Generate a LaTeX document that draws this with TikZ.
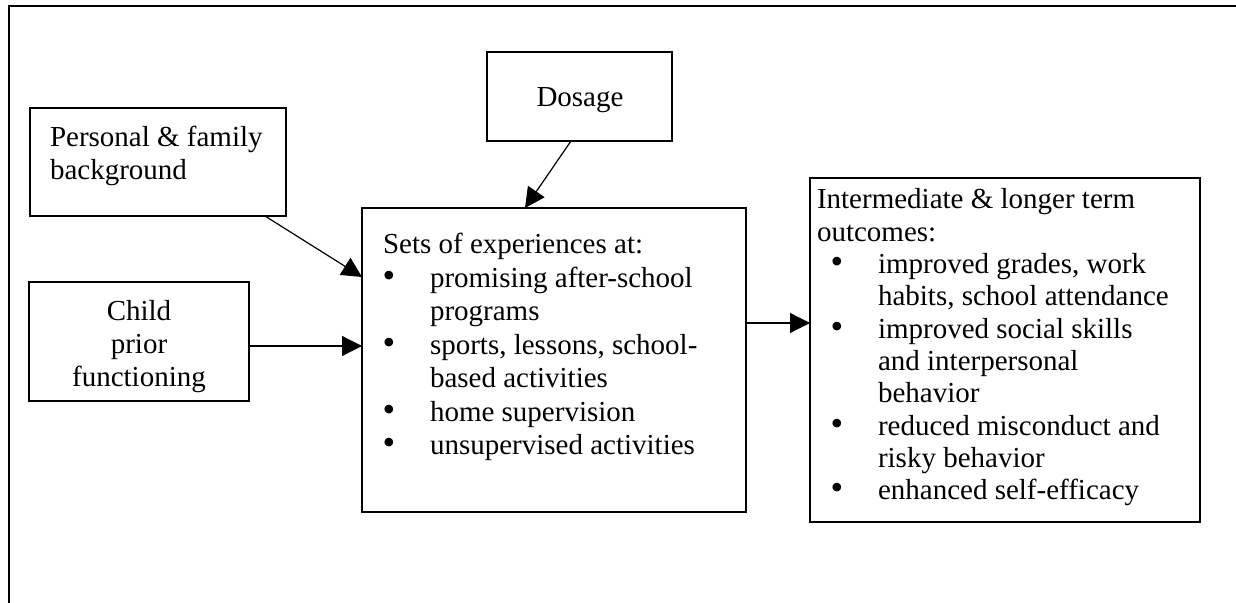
\documentclass[tikz,border=0pt]{standalone}
\usepackage{fontspec}
\setmainfont{Liberation Serif}
\usetikzlibrary{arrows.meta,calc}
\newcommand{\bulglyph}{{\fontsize{18}{18}\selectfont\textbullet}}
\newcommand{\ltext}[2][16.25pt]{\vtop{\baselineskip=#1\lineskiplimit=-20pt\halign{##\hfil\cr#2\crcr}}}
\newcommand{\ctext}[1]{\vtop{\baselineskip=16.5pt\lineskiplimit=-20pt\halign{\hfil##\hfil\cr#1\crcr}}}
\newcommand{\sbul}{\hspace*{3pt}\makebox[0pt]{\bulglyph}\hspace*{20.5pt}}
\newcommand{\sind}{\hspace*{23.5pt}}
\newcommand{\obul}{\hspace*{10pt}\makebox[0pt]{\bulglyph}\hspace*{20.5pt}}
\newcommand{\oind}{\hspace*{30.5pt}}
\tikzset{
  box/.style={draw, line width=0.75pt, rectangle, anchor=north west, inner sep=0pt, outer sep=0pt},
  txt/.style={inner sep=0pt, outer sep=0pt, font=\fontsize{14.5}{16.25}\selectfont},
  arr/.style={line width=0.6pt, -{Triangle[length=10pt,width=10pt]}}
}
\begin{document}
\begin{tikzpicture}[x=0.5pt,y=-0.5pt]
\useasboundingbox (0,0) rectangle (1236,603);
% outer frame
\draw[line width=1.1pt] (1236,6) -- (9,6) -- (9,603);
% boxes
\node[box, minimum width=128pt, minimum height=54pt] (pers) at (30,108) {};
\node[box, minimum width=92.5pt, minimum height=44.5pt] (dose) at (487,52) {};
\node[box, minimum width=110pt, minimum height=59.5pt] (child) at (29,282) {};
\node[box, minimum width=192pt, minimum height=152pt] (sets) at (362,208) {};
\node[box, minimum width=195pt, minimum height=172pt] (outc) at (810,178) {};
% texts
\node[txt, anchor=base west] (perst) at (50,147) {\ltext[16.5pt]{Personal \& family\cr background}};
\node[txt, anchor=base] (doset) at (580,107) {Dosage};
\node[txt, anchor=base] (childt) at (139,321) {\ctext{Child\cr prior\cr functioning}};
\node[txt, anchor=base west] (setst) at (383,254) {\ltext[16.75pt]{Sets of experiences at:\cr
\sbul promising after-school\cr
\sind programs\cr
\sbul sports, lessons, school-\cr
\sind based activities\cr
\sbul home supervision\cr
\sbul unsupervised activities}};
\node[txt, anchor=base west] (outct) at (817,209) {\ltext[16.15pt]{Intermediate \& longer term\cr
outcomes:\cr
\obul improved grades, work\cr
\oind habits, school attendance\cr
\obul improved social skills\cr
\oind and interpersonal\cr
\oind behavior\cr
\obul reduced misconduct and\cr
\oind risky behavior\cr
\obul enhanced self-efficacy}};
% connectors
\draw[arr] ([xshift=-10.5pt]pers.south east) -- ([yshift=-34.5pt]sets.north west);
\draw[arr] ([xshift=42pt]dose.south west) -- ([xshift=81.5pt]sets.north west);
\draw[arr] ([yshift=-2.25pt]child.east) -- ([yshift=-2.25pt]child.east -| sets.west);
\draw[arr] ([yshift=-57.5pt]sets.north east) -- ([yshift=-57.5pt]sets.north east -| outc.west);
\end{tikzpicture}
\end{document}
